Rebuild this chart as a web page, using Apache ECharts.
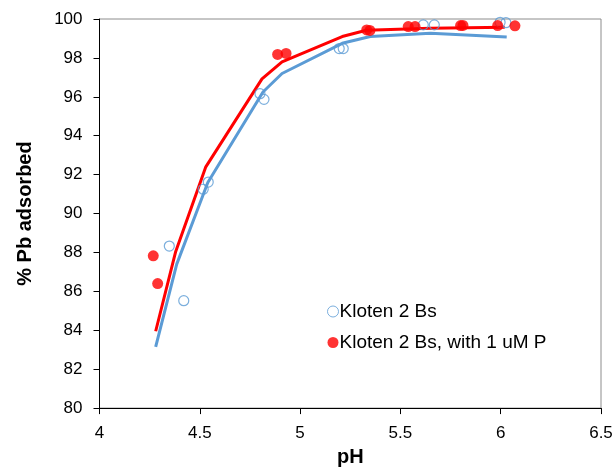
<!DOCTYPE html>
<html><head><meta charset="utf-8">
<script src="https://cdn.jsdelivr.net/npm/echarts@6/dist/echarts.min.js"></script>
<style>html,body{margin:0;padding:0;background:#fff}#c{width:616px;height:472px}</style>
</head><body><div id="c"></div>
<script>
var blueName = 'Kloten 2 Bs';
var redName = 'Kloten 2 Bs, with 1 uM P';
var bluePts = [[4.348,88.33],[4.42,85.52],[4.517,91.25],[4.542,91.62],[4.80,96.16],[4.82,95.87],[5.195,98.48],[5.215,98.48],[5.614,99.70],[5.669,99.70],[5.997,99.83],[6.026,99.81]];
var redPts = [[4.268,87.83],[4.29,86.40],[4.888,98.18],[4.93,98.23],[5.332,99.44],[5.348,99.41],[5.539,99.61],[5.573,99.61],[5.800,99.66],[5.812,99.67],[5.985,99.66],[6.071,99.65]];
var blueLine = [[4.28,83.15],[4.385,87.4],[4.54,91.6],[4.815,96.25],[4.91,97.2],[5.21,98.75],[5.35,99.1],[5.65,99.27],[6.03,99.08]];
var redLine = [[4.28,83.95],[4.38,88.05],[4.53,92.4],[4.81,96.92],[4.91,97.8],[5.21,99.1],[5.33,99.42],[5.65,99.52],[6.02,99.57]];
var xTicks = [4,4.5,5,5.5,6,6.5];
var yTicks = [80,82,84,86,88,90,92,94,96,98,100];

var BLUE = '#5B9BD5', RED = '#FF0000';
var font = 'Liberation Sans, Arial, sans-serif';
var chart = echarts.init(document.getElementById('c'), null, {renderer:'canvas'});
chart.setOption({
  animation:false,
  grid:{left:99.5, right:15, top:19, bottom:57, show:true, borderColor:'#8c8c8c', borderWidth:1},
  legend:{
    orient:'vertical', left:322, top:297, itemGap:12, itemWidth:11, itemHeight:11,
    data:[
      {name:blueName, itemStyle:{color:'#fff', borderColor:BLUE, borderWidth:1}},
      {name:redName}
    ],
    textStyle:{fontFamily:font, fontSize:19, color:'#000', padding:[0,0,0,-4]}
  },
  xAxis:{
    type:'value', min:4, max:6.5, interval:0.5,
    name:'pH', nameLocation:'middle', nameGap:37,
    nameTextStyle:{fontFamily:font, fontSize:20, fontWeight:'bold', color:'#000'},
    axisLine:{onZero:false, lineStyle:{color:'#000', width:1}},
    axisTick:{show:true, inside:false, length:6, lineStyle:{color:'#000'}},
    axisLabel:{fontFamily:font, fontSize:17, color:'#000', margin:17,
      formatter:function(v){return xTicks.indexOf(v)>=0 ? String(v) : '';}},
    splitLine:{show:false}
  },
  yAxis:{
    type:'value', min:80, max:100, interval:2,
    name:'% Pb adsorbed', nameLocation:'middle', nameGap:64, nameRotate:90,
    nameTextStyle:{fontFamily:font, fontSize:20, fontWeight:'bold', color:'#000'},
    axisLine:{onZero:false, lineStyle:{color:'#000', width:1}},
    axisTick:{show:true, inside:false, length:6, lineStyle:{color:'#000'}},
    axisLabel:{fontFamily:font, fontSize:17, color:'#000', margin:17,
      formatter:function(v){return yTicks.indexOf(v)>=0 ? String(v) : '';}},
    splitLine:{show:false}
  },
  series:[
    {name:'blueLine', type:'line', data:blueLine, showSymbol:false, symbol:'none',
      lineStyle:{color:BLUE, width:3}, z:2},
    {name:'redLine', type:'line', data:redLine, showSymbol:false, symbol:'none',
      lineStyle:{color:RED, width:3}, z:3},
    {name:blueName, type:'scatter', data:bluePts, symbol:'circle', symbolSize:10,
      itemStyle:{color:'rgba(255,255,255,0)', borderColor:BLUE, borderWidth:1.2}, z:4},
    {name:redName, type:'scatter', data:redPts, symbol:'circle', symbolSize:11,
      itemStyle:{color:RED}, z:5}
  ]
});
</script></body></html>
